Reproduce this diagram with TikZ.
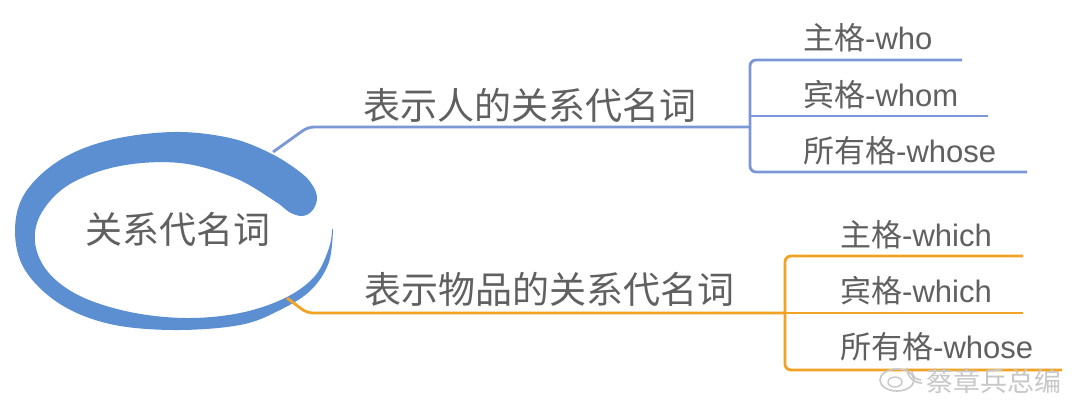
\documentclass[tikz,border=0pt]{standalone}
\usepackage{fontspec}
\setmainfont{Liberation Sans}
\newfontfamily\cjk{Noto Sans CJK SC}
\usetikzlibrary{positioning}
\definecolor{ringblue}{RGB}{92,143,210}
\definecolor{personblue}{RGB}{124,151,214}
\definecolor{thingorange}{RGB}{243,163,35}
\definecolor{textgray}{RGB}{96,96,96}
\definecolor{markgray}{RGB}{200,200,200}

\begin{document}
\begin{tikzpicture}[
        x=1pt, y=-1pt,
        label/.style={inner sep=0pt, anchor=base west, text=textgray},
        rootlabel/.style={label, font=\fontsize{37}{42}\selectfont\cjk},
        branchlabel/.style={label, font=\fontsize{37}{42}\selectfont\cjk},
        leaflabel/.style={label, font=\fontsize{31}{36}\selectfont},
        personline/.style={draw=personblue, line width=2.8pt, rounded corners=6pt},
        thingline/.style={draw=thingorange, line width=2.8pt, rounded corners=6pt},
        personleaf/.style={personline, line width=2.2pt},
        thingleaf/.style={thingline, line width=2.2pt},
    ]
    \useasboundingbox[fill=white] (0,0) rectangle (1080,402);

    % Root ring
    \fill[ringblue] plot[smooth, tension=0.6] coordinates {
        (333,228) (329,262) (311,290) (280,310) (240,325) (174,330) (110,324)
        (60,304) (25,270) (15,231) (25,193) (60,160) (110,140) (174,132)
        (230,138) (270,153) (300,172) (313,186) (317,199) (312,211) (302,216)
        (289,212) (276,202) (235,178) (180,163) (120,166) (70,184) (42,212)
        (35,242) (48,272) (80,296) (130,312) (186,318) (240,313) (285,298)
        (315,276) (329,248) (332,230)} -- cycle;

    % Nodes
    \node[rootlabel] (root) at (85,243) {关系代名词};
    \node[branchlabel] (person) at (363,119) {表示人的关系代名词};
    \node[branchlabel] (thing) at (364,303) {表示物品的关系代名词};

    \node[leaflabel] (who) at (803,49) {{\cjk 主格}-who};
    \node[leaflabel] (whom) at (803,106) {{\cjk 宾格}-whom};
    \node[leaflabel] (whosep) at (803,162) {{\cjk 所有格}-whose};

    \node[leaflabel] (which1) at (840,246) {{\cjk 主格}-which};
    \node[leaflabel] (which2) at (840,302) {{\cjk 宾格}-which};
    \node[leaflabel] (whoset) at (840,358) {{\cjk 所有格}-whose};

    % Joints
    \coordinate (person-start) at (273,152);
    \coordinate (person-fork) at (750,127);
    \coordinate (who-start) at (750,60);
    \coordinate (who-end) at (962,60);
    \coordinate (whom-start) at (750,116);
    \coordinate (whom-end) at (988,116);
    \coordinate (whosep-start) at (750,172);
    \coordinate (whosep-end) at (1027,172);

    \coordinate (thing-start) at (287,298);
    \coordinate (thing-fork) at (785,313);
    \coordinate (which1-start) at (785,256);
    \coordinate (which1-end) at (1023,256);
    \coordinate (which2-end) at (1023,313);
    \coordinate (whoset-start) at (785,370);
    \coordinate (whoset-end) at (1062,370);

    % Lines
    \draw[personline] (person-start) -- ++(35,-25) -- (person-fork);
    \draw[personline] (who-end) -- (who-start) -- (whosep-start) -- (whosep-end);
    \draw[personleaf] (whom-start) -- (whom-end);

    \draw[thingline] (thing-start) -- ++(20,15) -- (thing-fork);
    \draw[thingline] (which1-end) -- (which1-start) -- (whoset-start) -- (whoset-end);
    \draw[thingleaf] (thing-fork) -- (which2-end);

    % Watermark
    \draw[markgray, line width=1.6pt] (897,380) ellipse [x radius=17, y radius=11];
    \draw[markgray, line width=1.4pt] (895,382) ellipse [x radius=7, y radius=5];
    \draw[markgray, line width=1.6pt] (912,371) arc [start angle=180, end angle=90, radius=9];
    \draw[markgray, line width=1.6pt] (907,368) arc [start angle=180, end angle=90, radius=15];
    \node[label, text=markgray, font=\fontsize{27}{31}\selectfont\cjk] (mark) at (926,391) {蔡章兵总编};
\end{tikzpicture}
\end{document}
